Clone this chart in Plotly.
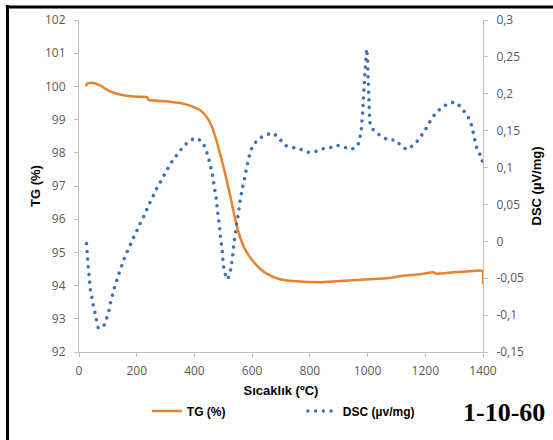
import plotly.graph_objects as go

# TG curve (left axis, %)
tg_temp = [25, 27, 39, 50, 62, 74, 91, 108, 131, 166, 200, 237, 240, 270, 316, 350,
           374, 397, 420, 437, 450, 460, 468, 476, 485, 497, 509, 520, 529, 537, 547,
           558, 575, 599, 625, 650, 696, 766, 835, 893, 950, 1008, 1066, 1123,
           1181, 1227, 1239, 1296, 1354, 1398, 1400]
tg_val = [100.0, 100.08, 100.1, 100.1, 100.07, 100.03, 99.93, 99.85, 99.78, 99.72,
          99.69, 99.67, 99.6, 99.57, 99.54, 99.5, 99.45, 99.38, 99.28, 99.14, 98.98,
          98.80, 98.60, 98.38, 98.10, 97.70, 97.28, 96.86, 96.50, 96.17, 95.80, 95.47,
          95.10, 94.78, 94.53, 94.36, 94.19, 94.12, 94.1, 94.13, 94.16, 94.19, 94.22,
          94.30, 94.34, 94.40, 94.36, 94.40, 94.43, 94.44, 94.05]

# DSC curve (right axis, µV/mg)
dsc_temp = [26, 28, 30, 32, 35, 37, 40, 45, 50, 56, 68, 87, 96, 104, 109, 116, 123,
            131, 139, 149, 158, 169, 180, 191, 203, 214, 226, 237, 249, 260, 272,
            286, 299, 312, 326, 344, 361, 379, 404, 427, 438, 447, 454, 460, 465,
            469, 474, 477, 480, 483, 487, 489, 492, 496, 498, 500, 505, 514, 524,
            528, 532, 535, 538, 542, 545, 550, 554, 557, 562, 567, 573, 578, 583,
            589, 596, 609, 627, 650, 673, 697, 715, 739, 763, 789, 815, 841, 867,
            893, 918, 943, 966, 973, 978, 980, 983, 985, 988, 991, 993, 995, 997,
            1000, 1002, 1005, 1007, 1011, 1029, 1049, 1074, 1098, 1115, 1137, 1158,
            1177, 1192, 1208, 1221, 1237, 1257, 1279, 1303, 1323, 1340, 1354, 1363,
            1369, 1374, 1381, 1395, 1400]
dsc_val = [-0.003, -0.014, -0.025, -0.035, -0.046, -0.056, -0.067, -0.077, -0.088,
           -0.098, -0.118, -0.1135, -0.104, -0.094, -0.083, -0.073, -0.0625, -0.0526,
           -0.043, -0.032, -0.022, -0.012, -0.003, 0.007, 0.0164, 0.026, 0.035,
           0.0453, 0.055, 0.064, 0.0737, 0.083, 0.0926, 0.1016, 0.1106, 0.1197,
           0.128, 0.135, 0.140, 0.135, 0.126, 0.116, 0.105, 0.095, 0.0836, 0.073,
           0.063, 0.053, 0.042, 0.0318, 0.0214, 0.0105, 0.0001, -0.010, -0.0206,
           -0.0318, -0.042, -0.0517, -0.042, -0.032, -0.021, -0.0096, 0.0006, 0.011,
           0.021, 0.032, 0.042, 0.052, 0.063, 0.0734, 0.0836, 0.094, 0.104, 0.114,
           0.124, 0.133, 0.140, 0.1444, 0.1467, 0.1377, 0.130, 0.1273, 0.1255, 0.121,
           0.121, 0.125, 0.1265, 0.130, 0.128, 0.1246, 0.130, 0.140, 0.150, 0.160,
           0.175, 0.190, 0.210, 0.2297, 0.241, 0.252, 0.261, 0.245, 0.220, 0.190,
           0.167, 0.155, 0.148, 0.142, 0.1372, 0.1372, 0.1296, 0.1246, 0.1305,
           0.1377, 0.1467, 0.1562, 0.1657, 0.1738, 0.1814, 0.1864, 0.1887, 0.182,
           0.1733, 0.1647, 0.1535, 0.1422, 0.133, 0.123, 0.1143, 0.103]

x_ticks = [0, 200, 400, 600, 800, 1000, 1200, 1400]
x_labels = ["0", "200", "400", "600", "800", "1000", "1200", "1400"]
tg_ticks = [92, 93, 94, 95, 96, 97, 98, 99, 100, 101, 102]
tg_labels = [str(v) for v in tg_ticks]
dsc_ticks = [-0.15, -0.1, -0.05, 0, 0.05, 0.1, 0.15, 0.2, 0.25, 0.3]
dsc_labels = ["-0,15", "-0,1", "-0,05", "0", "0,05", "0,1", "0,15", "0,2", "0,25", "0,3"]

ORANGE = "#E8822E"
BLUE = "#3D72B4"
AXIS_GRAY = "#BFBFBF"
TICK_FONT = dict(family="Open Sans", size=12, color="#595959")
TITLE_FONT = dict(family="Liberation Sans", size=13, color="#000000", weight="bold")

fig = go.Figure()
fig.add_trace(go.Scatter(
    x=tg_temp, y=tg_val, name="TG (%)", mode="lines",
    line=dict(color=ORANGE, width=2.5, shape="spline", smoothing=0.6), yaxis="y"))
fig.add_trace(go.Scatter(
    x=dsc_temp, y=dsc_val, name="DSC (µv/mg)", mode="lines",
    line=dict(color=BLUE, width=3.5, dash="3.5px,4.2px", shape="spline", smoothing=0.4),
    yaxis="y2"))

axis_common = dict(showgrid=False, zeroline=False, showline=True, linecolor=AXIS_GRAY,
                   linewidth=1, ticks="outside", ticklen=4, tickcolor=AXIS_GRAY,
                   tickfont=TICK_FONT)

fig.update_layout(
    width=553, height=440,
    margin=dict(l=79, r=70, t=20, b=88),
    paper_bgcolor="white", plot_bgcolor="white",
    showlegend=True,
    xaxis=dict(range=[0, 1400], tickvals=x_ticks, ticktext=x_labels, ticklabelstandoff=4,
               title=dict(text="Sıcaklık (ºC)", font=TITLE_FONT, standoff=7),
               **axis_common),
    yaxis=dict(range=[92, 102], tickvals=tg_ticks, ticktext=tg_labels, ticklabelstandoff=6,
               title=dict(text="TG (%)", font=TITLE_FONT, standoff=1),
               **axis_common),
    yaxis2=dict(range=[-0.15, 0.3], tickvals=dsc_ticks, ticktext=dsc_labels,
                ticklabelstandoff=6, overlaying="y", side="right",
                title=dict(text="DSC (µV/mg)", font=TITLE_FONT, standoff=8),
                **axis_common),
    legend=dict(orientation="h", x=0.168, y=-0.178, xanchor="left", yanchor="middle",
                font=dict(family="Liberation Sans", size=12, color="#000000", weight="bold"),
                entrywidth=111, entrywidthmode="pixels", bgcolor="rgba(0,0,0,0)"),
    annotations=[dict(text="<b>1-10-60</b>", x=1.052, y=-0.181, xref="paper", yref="paper",
                      showarrow=False, xanchor="center", yanchor="middle",
                      font=dict(family="Liberation Serif", size=26, color="#000000"))],
    shapes=[
        dict(type="line", xref="paper", yref="paper", x0=-0.177, x1=-0.177, y0=-0.27, y1=1.045,
             line=dict(color="black", width=3)),
        dict(type="line", xref="paper", yref="paper", x0=-0.181, x1=1.18, y0=1.039, y1=1.039,
             line=dict(color="black", width=3)),
    ],
)

# Turn the dashed DSC line into round dots (plot and legend sample)
round_dots_js = """
var gd = document.getElementById('{plot_id}');
function roundDots() {
  gd.querySelectorAll('path.js-line').forEach(function (p) {
    var d = p.style.strokeDasharray;
    if (d && d !== 'none') {
      p.style.strokeLinecap = 'round';
      p.style.strokeDasharray = '0.01px,7.7px';
    }
  });
}
roundDots();
gd.on('plotly_afterplot', roundDots);
"""

fig.write_html("out.html", post_script=round_dots_js)
